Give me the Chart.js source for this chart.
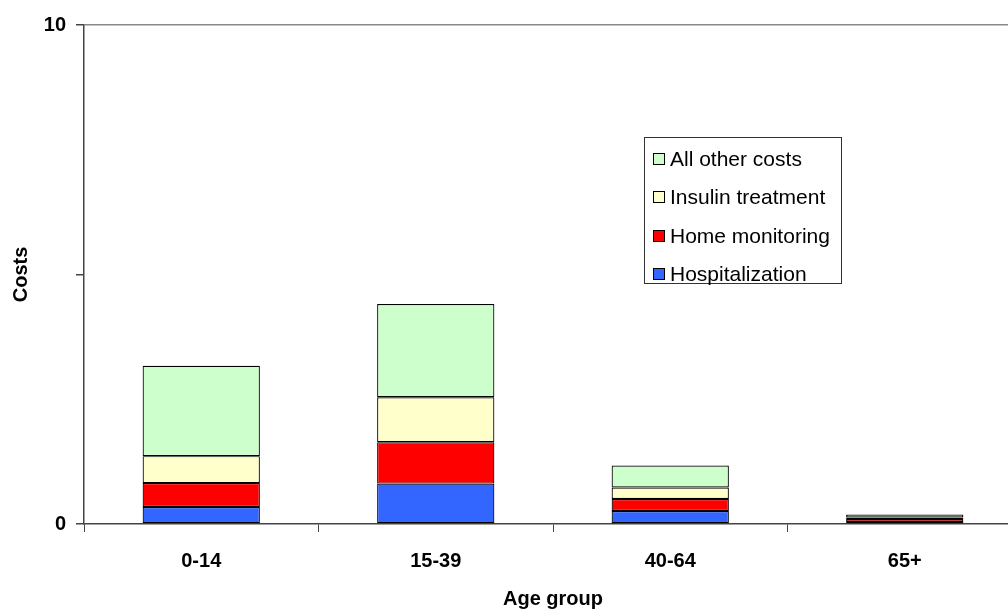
<!DOCTYPE html>
<html>
<head>
<meta charset="utf-8">
<script src="https://cdn.jsdelivr.net/npm/chart.js@4.4.1/dist/chart.umd.min.js"></script>
<style>
  html, body { margin: 0; padding: 0; background: #fff; overflow: hidden; }
  #wrap { position: relative; width: 1022px; height: 613px; }
  #legend {
    position: absolute; left: 644px; top: 137px; width: 198px; height: 147px;
    border: 1px solid #333; background: #fff; box-sizing: border-box;
    font-family: "Liberation Sans", Arial, sans-serif; font-size: 21px; color: #000;
  }
  .item { position: absolute; left: 8px; height: 24px; line-height: 24px; white-space: nowrap; }
  .sw { display: inline-block; width: 10px; height: 10px; border: 1.5px solid #000; margin-right: 5px; vertical-align: 1px; }
</style>
</head>
<body>
<div id="wrap">
  <canvas id="c" width="1022" height="613"></canvas>
  <div id="legend"></div>
</div>
<script>
const categories = ["0-14", "15-39", "40-64", "65+"];
const hospitalization = [0.34, 0.81, 0.26, 0.04];
const homeMonitoring = [0.48, 0.83, 0.24, 0.06];
const insulinTreatment = [0.54, 0.90, 0.23, 0.03];
const allOtherCosts = [1.81, 1.87, 0.44, 0.06];
const yTickLabels = { 0: "0", 10: "10" };

const seriesNames = ["Hospitalization", "Home monitoring", "Insulin treatment", "All other costs"];
const seriesColors = ["#3366FF", "#FF0000", "#FFFFCC", "#CCFFCC"];
const seriesData = [hospitalization, homeMonitoring, insulinTreatment, allOtherCosts];

const datasets = seriesNames.map((n, i) => ({
  label: n,
  data: seriesData[i],
  backgroundColor: seriesColors[i],
  borderColor: "#000",
  borderWidth: 1.2,
  borderSkipped: false,
  categoryPercentage: 1.0,
  barPercentage: 0.5
}));

const FONT = "'Liberation Sans', Arial, sans-serif";

new Chart(document.getElementById("c"), {
  type: "bar",
  data: { labels: categories, datasets },
  options: {
    responsive: false,
    animation: false,
    layout: { padding: { top: 25, right: 0, bottom: 0, left: 0 } },
    plugins: { legend: { display: false }, tooltip: { enabled: false } },
    scales: {
      x: {
        stacked: true,
        offset: true,
        grid: { offset: true, drawOnChartArea: false, tickLength: 8, tickColor: "#444", tickWidth: 1 },
        border: { color: "#444", width: 1.5 },
        ticks: { color: "#000", font: { family: FONT, size: 20, weight: "bold" }, padding: 17 },
        title: { display: true, text: "Age group", color: "#000", font: { family: FONT, size: 20, weight: "bold" }, padding: { top: 0, bottom: 2 } },
        afterFit: (s) => { s.height = 89; }
      },
      y: {
        stacked: true,
        min: 0, max: 10,
        ticks: {
          stepSize: 5, color: "#000", padding: 10,
          font: { family: FONT, size: 20, weight: "bold" },
          callback: (v) => (yTickLabels[v] !== undefined ? yTickLabels[v] : "")
        },
        grid: {
          tickLength: 8, tickColor: "#444",
          color: (ctx) => (ctx.tick && ctx.tick.value === 10 ? "#888" : "rgba(0,0,0,0)"),
          lineWidth: 1.5
        },
        border: { color: "#444", width: 1.5 },
        title: { display: true, text: "Costs", color: "#000", font: { family: FONT, size: 20, weight: "bold" }, padding: { top: 9, bottom: 0 } },
        afterFit: (s) => { s.width = 84; }
      }
    }
  }
});

const legend = document.getElementById("legend");
const tops = [9, 47, 86, 124];
[3, 2, 1, 0].forEach((idx, row) => {
  const d = document.createElement("div");
  d.className = "item";
  d.style.top = tops[row] + "px";
  const sw = document.createElement("span");
  sw.className = "sw";
  sw.style.background = seriesColors[idx];
  d.appendChild(sw);
  d.appendChild(document.createTextNode(seriesNames[idx]));
  legend.appendChild(d);
});
</script>
</body>
</html>
